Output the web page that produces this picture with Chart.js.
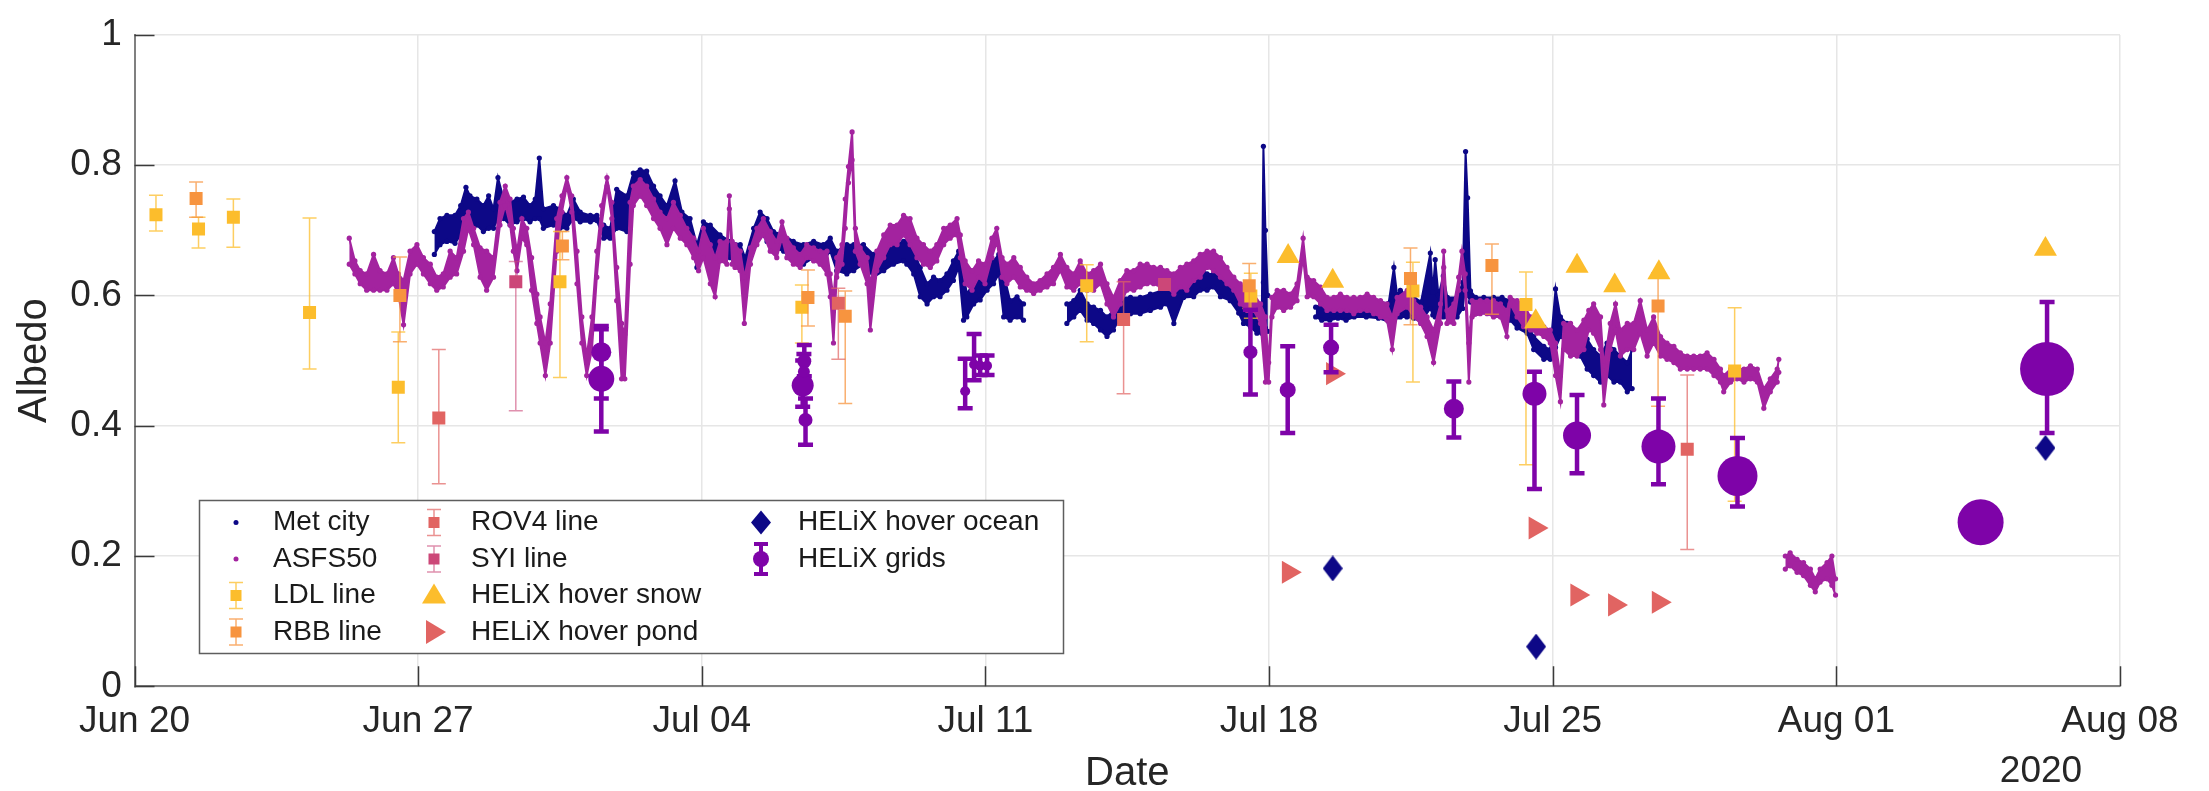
<!DOCTYPE html>
<html>
<head>
<meta charset="utf-8">
<title>Albedo</title>
<script src="https://cdn.jsdelivr.net/npm/chart.js@4.4.1/dist/chart.umd.min.js"></script>
<style>
  html, body { margin: 0; padding: 0; background: #ffffff; }
  #wrap { width: 2209px; height: 791px; position: relative; }
</style>
</head>
<body>
<div id="wrap"><canvas id="albedo"></canvas></div>
<script>
// ---------------------------------------------------------------
// Data. Time is in days since 20 Jun 2020 00:00 (UTC).
// ---------------------------------------------------------------
const tickLabels = ['Jun 20', 'Jun 27', 'Jul 04', 'Jul 11', 'Jul 18', 'Jul 25', 'Aug 01', 'Aug 08'];
const yearLabel = '2020';

// Continuous stations: [day, low, high] envelope of the albedo record.
// A row with nulls marks a gap in the record.
const metCity = [
  [7.40,0.663,0.698],[7.54,0.678,0.718],[7.71,0.683,0.723],[7.91,0.680,0.723],[8.05,0.693,0.738],
  [8.18,0.703,0.766],[8.28,0.703,0.753],[8.45,0.708,0.748],[8.61,0.698,0.738],[8.74,0.703,0.753],
  [8.86,0.703,0.733],[8.97,0.718,0.781],[9.11,0.718,0.748],[9.27,0.708,0.743],[9.44,0.713,0.748],
  [9.60,0.718,0.751],[9.76,0.713,0.738],[9.89,0.718,0.748],[9.99,0.718,0.811],[10.09,0.703,0.733],
  [10.34,0.708,0.738],[10.50,0.703,0.733],[10.67,0.703,0.723],[10.83,0.718,0.748],[11.00,0.713,0.728],
  [11.25,0.713,0.723],[11.41,0.715,0.723],[11.58,0.688,0.708],[11.74,0.688,0.703],[11.90,0.703,0.763],
  [12.15,0.698,0.753],[12.31,0.745,0.788],[12.48,0.753,0.793],[12.64,0.748,0.791],[12.81,0.733,0.768],
  [12.97,0.718,0.753],[13.14,0.708,0.738],[13.34,0.708,0.776],[13.51,0.703,0.728],[13.71,0.688,0.718],
  [13.88,0.643,0.678],[14.04,0.658,0.713],[14.21,0.668,0.708],[14.45,0.658,0.693],[14.70,0.658,0.683],
  [14.95,0.648,0.678],[15.07,0.633,0.658],[15.28,0.678,0.703],[15.44,0.698,0.728],[15.61,0.683,0.718],
  [15.77,0.673,0.698],[16.02,0.668,0.693],[16.26,0.653,0.683],[16.51,0.648,0.678],[16.76,0.658,0.683],
  [17.00,0.653,0.678],[17.17,0.668,0.688],[17.33,0.638,0.668],[17.58,0.633,0.678],[17.75,0.638,0.678],
  [17.99,0.648,0.678],[18.24,0.628,0.663],[18.49,0.638,0.668],[18.73,0.648,0.678],[18.98,0.653,0.683],
  [19.06,0.648,0.683],[19.23,0.633,0.668],[19.39,0.598,0.643],[19.56,0.587,0.618],[19.72,0.598,0.628],
  [19.88,0.598,0.623],[20.05,0.608,0.633],[20.21,0.623,0.653],[20.34,0.643,0.668],[20.46,0.562,0.633],
  [20.54,0.567,0.603],[20.71,0.587,0.618],[20.87,0.593,0.623],[21.04,0.608,0.638],[21.20,0.618,0.653],
  [21.33,0.633,0.663],[21.45,0.567,0.633],[21.61,0.562,0.592],[21.78,0.567,0.598],[21.94,0.562,0.587],
  [22.45,null,null],
  [23.01,0.557,0.587],[23.18,0.567,0.592],[23.34,0.577,0.608],[23.51,0.562,0.587],[23.67,0.557,0.582],
  [23.84,0.547,0.577],[24.00,0.537,0.567],[24.16,0.547,0.577],[24.33,0.567,0.597],[24.58,0.572,0.597],
  [24.82,0.572,0.597],[25.07,0.577,0.602],[25.32,0.582,0.607],[25.48,0.587,0.607],[25.65,0.557,0.602],
  [25.89,0.597,0.618],[26.14,0.598,0.638],[26.30,0.608,0.643],[26.47,0.608,0.633],[26.63,0.613,0.633],
  [26.80,0.598,0.628],[27.04,0.592,0.618],[27.25,0.573,0.602],[27.37,0.557,0.587],[27.54,0.552,0.587],
  [27.70,0.542,0.572],[27.82,0.542,0.567],[27.86,0.620,0.829],[27.91,0.550,0.700],[27.97,0.545,0.600],
  [28.55,null,null],
  [29.15,0.567,0.582],[29.30,0.562,0.587],[29.50,0.562,0.587],[29.70,0.565,0.590],[29.90,0.562,0.588],
  [30.10,0.567,0.592],[30.40,0.567,0.592],[30.70,0.565,0.590],[30.95,0.560,0.588],[31.08,0.570,0.643],
  [31.16,0.567,0.600],[31.24,0.567,0.608],[31.40,0.567,0.600],[31.57,0.565,0.598],[31.75,0.560,0.590],
  [31.98,0.580,0.665],[32.04,0.570,0.605],[32.10,0.567,0.655],[32.18,0.567,0.600],[32.30,0.567,0.630],
  [32.40,0.567,0.597],[32.64,0.567,0.597],[32.78,0.580,0.620],[32.85,0.620,0.821],[32.90,0.600,0.750],
  [32.97,0.590,0.607],[33.10,0.572,0.597],
  [33.30,0.575,0.597],[33.54,0.572,0.597],[33.75,0.567,0.597],[33.95,0.562,0.592],[34.12,0.550,0.580],
  [34.37,0.542,0.557],[34.53,0.517,0.537],[34.78,0.502,0.522],[34.94,0.502,0.517],[35.07,0.520,0.610],
  [35.19,0.537,0.567],[35.35,0.527,0.557],[35.52,0.517,0.547],[35.68,0.507,0.542],[35.85,0.487,0.533],
  [36.01,0.477,0.517],[36.18,0.467,0.507],[36.34,0.477,0.527],[36.51,0.467,0.517],[36.67,0.467,0.507],
  [36.84,0.452,0.497],[36.96,0.457,0.517]
];

const asfs50 = [
  [5.30,0.648,0.688],[5.44,0.633,0.653],[5.57,0.618,0.638],[5.73,0.608,0.633],[5.90,0.608,0.663],
  [6.06,0.608,0.638],[6.23,0.608,0.633],[6.39,0.618,0.658],[6.51,0.602,0.633],[6.64,0.555,0.623],
  [6.80,0.633,0.668],[6.97,0.648,0.678],[7.13,0.633,0.658],[7.30,0.618,0.648],[7.46,0.608,0.628],
  [7.62,0.613,0.633],[7.79,0.628,0.668],[7.95,0.633,0.658],[8.12,0.668,0.718],[8.24,0.703,0.728],
  [8.37,0.678,0.703],[8.53,0.628,0.673],[8.69,0.608,0.668],[8.86,0.628,0.658],[9.02,0.708,0.743],
  [9.15,0.738,0.768],[9.27,0.708,0.748],[9.35,0.668,0.703],[9.44,0.638,0.668],[9.56,0.688,0.718],
  [9.68,0.678,0.703],[9.80,0.608,0.658],[9.93,0.557,0.602],[10.01,0.527,0.567],[10.14,0.477,0.527],
  [10.26,0.527,0.587],[10.42,0.668,0.718],[10.55,0.728,0.753],[10.67,0.768,0.781],[10.79,0.728,0.753],
  [10.92,0.618,0.668],[11.04,0.527,0.567],[11.16,0.477,0.507],[11.29,0.517,0.567],[11.41,0.628,0.668],
  [11.53,0.708,0.738],[11.66,0.768,0.781],[11.78,0.718,0.743],[11.90,0.592,0.643],[12.02,0.472,0.557],
  [12.10,0.472,0.540],[12.23,0.648,0.743],[12.31,0.738,0.768],[12.48,0.753,0.778],[12.64,0.738,0.768],
  [12.81,0.718,0.748],[12.97,0.703,0.728],[13.14,0.678,0.718],[13.30,0.703,0.743],[13.47,0.688,0.723],
  [13.63,0.678,0.703],[13.80,0.658,0.688],[13.92,0.638,0.668],[14.04,0.658,0.703],[14.21,0.618,0.678],
  [14.33,0.598,0.658],[14.45,0.653,0.683],[14.62,0.648,0.683],[14.68,0.733,0.753],[14.75,0.648,0.683],
  [14.82,0.643,0.678],[14.95,0.638,0.668],[15.05,0.557,0.628],[15.20,0.648,0.673],[15.36,0.678,0.703],
  [15.52,0.693,0.718],[15.69,0.668,0.698],[15.85,0.658,0.683],[15.98,0.688,0.713],[16.10,0.658,0.688],
  [16.26,0.648,0.673],[16.43,0.643,0.663],[16.59,0.658,0.678],[16.76,0.653,0.673],[16.92,0.648,0.668],
  [17.09,0.633,0.668],[17.17,0.598,0.633],[17.25,0.527,0.597],[17.33,0.628,0.658],[17.46,0.648,0.678],
  [17.54,0.703,0.748],[17.62,0.773,0.798],[17.71,0.808,0.851],[17.79,0.668,0.703],[17.91,0.648,0.673],
  [18.08,0.618,0.658],[18.16,0.547,0.618],[18.32,0.638,0.668],[18.49,0.658,0.693],[18.65,0.678,0.708],
  [18.82,0.678,0.708],[18.98,0.693,0.723],[19.14,0.678,0.718],[19.31,0.658,0.688],[19.47,0.648,0.678],
  [19.64,0.643,0.668],[19.80,0.653,0.678],[19.97,0.678,0.703],[20.13,0.688,0.708],[20.30,0.693,0.718],
  [20.38,0.658,0.693],[20.50,0.618,0.653],[20.67,0.608,0.638],[20.83,0.628,0.653],[20.99,0.618,0.648],
  [21.16,0.658,0.688],[21.28,0.683,0.703],[21.41,0.628,0.658],[21.53,0.618,0.648],[21.70,0.628,0.658],
  [21.86,0.613,0.643],[22.02,0.608,0.628],[22.19,0.603,0.618],[22.35,0.608,0.623],[22.52,0.613,0.633],
  [22.68,0.618,0.643],[22.85,0.638,0.663],[23.01,0.613,0.643],[23.18,0.608,0.633],[23.34,0.618,0.653],
  [23.51,0.608,0.633],[23.67,0.608,0.638],[23.84,0.618,0.648],[24.00,0.587,0.618],[24.16,0.567,0.597],
  [24.33,0.587,0.623],[24.49,0.608,0.638],[24.66,0.608,0.638],[24.82,0.613,0.648],[24.99,0.618,0.648],
  [25.15,0.618,0.643],[25.32,0.613,0.643],[25.48,0.613,0.638],[25.65,0.602,0.633],[25.81,0.613,0.643],
  [25.97,0.608,0.648],[26.14,0.623,0.653],[26.30,0.628,0.663],[26.47,0.643,0.668],[26.63,0.638,0.668],
  [26.80,0.628,0.658],[26.96,0.618,0.643],[27.13,0.608,0.628],[27.29,0.587,0.618],[27.46,0.577,0.608],
  [27.62,0.577,0.602],[27.79,0.557,0.587],[27.91,0.467,0.567],[27.99,0.467,0.497],[28.07,0.567,0.597],
  [28.20,0.582,0.608],[28.36,0.577,0.608],[28.53,0.582,0.602],[28.69,0.592,0.618],[28.84,0.658,0.688],
  [28.94,0.598,0.628],[29.10,0.598,0.623],[29.27,0.587,0.613],[29.43,0.577,0.597],[29.60,0.577,0.597],
  [29.76,0.577,0.602],[29.92,0.577,0.597],[30.09,0.572,0.597],[30.25,0.577,0.597],[30.42,0.577,0.602],
  [30.58,0.572,0.597],[30.75,0.567,0.592],[30.91,0.562,0.587],[31.04,0.517,0.567],[31.16,0.572,0.597],
  [31.41,0.582,0.608],[31.57,0.567,0.592],[31.74,0.557,0.582],[31.90,0.537,0.567],[32.06,0.497,0.547],
  [32.23,0.557,0.587],[32.31,0.643,0.668],[32.39,0.557,0.577],[32.56,0.557,0.587],[32.68,0.608,0.628],
  [32.76,0.643,0.668],[32.84,0.608,0.633],[32.93,0.467,0.527],[33.01,0.567,0.592],[33.21,0.572,0.592],
  [33.38,0.572,0.592],[33.54,0.567,0.592],[33.71,0.567,0.587],[33.87,0.537,0.577],[33.95,0.587,0.597],
  [34.12,0.567,0.592],[34.28,0.552,0.587],[34.45,0.547,0.567],[34.61,0.542,0.557],[34.78,0.537,0.552],
  [34.94,0.527,0.547],[35.07,0.477,0.527],[35.19,0.437,0.477],[35.27,0.517,0.557],[35.44,0.507,0.557],
  [35.60,0.507,0.547],[35.77,0.517,0.562],[35.89,0.547,0.577],[36.01,0.542,0.587],[36.18,0.517,0.567],
  [36.26,0.432,0.492],[36.42,0.517,0.557],[36.55,0.547,0.587],[36.67,0.507,0.547],[36.84,0.517,0.557],
  [37.00,0.517,0.557],[37.16,0.542,0.592],[37.33,0.507,0.547],[37.49,0.527,0.567],[37.66,0.507,0.537],
  [37.82,0.502,0.527],[37.99,0.497,0.522],[38.15,0.487,0.512],[38.32,0.487,0.507],[38.48,0.487,0.507],
  [38.64,0.487,0.507],[38.81,0.487,0.512],[38.98,0.477,0.502],[39.14,0.467,0.487],[39.22,0.452,0.477],
  [39.39,0.467,0.487],[39.55,0.472,0.487],[39.72,0.467,0.487],[39.88,0.472,0.492],[40.05,0.467,0.487],
  [40.21,0.427,0.457],[40.37,0.452,0.472],[40.54,0.467,0.487],[40.58,0.482,0.502],
  [40.66,null,null],
  [40.74,0.180,0.200],[40.86,0.185,0.205],[41.03,0.175,0.195],[41.19,0.170,0.190],[41.36,0.155,0.180],
  [41.48,0.145,0.165],[41.60,0.160,0.180],[41.77,0.165,0.190],[41.89,0.155,0.200],[41.98,0.140,0.165]
];

// Transect lines: [day, mean albedo, error low, error high]
const ldlLine = [
  [0.53,0.724,0.699,0.754],[1.58,0.702,0.673,0.720],[2.44,0.720,0.674,0.748],[4.32,0.574,0.487,0.719],
  [6.51,0.459,0.374,0.544],[10.50,0.621,0.474,0.698],[16.47,0.582,0.527,0.616],[23.50,0.615,0.529,0.647],
  [27.55,0.599,0.565,0.634],[31.55,0.607,0.467,0.651],[34.34,0.586,0.340,0.636],[39.49,0.484,0.284,0.581]
];
const rbbLine = [
  [1.52,0.749,0.720,0.774],[6.55,0.600,0.529,0.659],[10.56,0.676,0.655,0.698],[16.62,0.597,0.553,0.639],
  [17.54,0.568,0.434,0.607],[27.51,0.615,0.580,0.649],[31.49,0.626,0.555,0.673],[33.50,0.646,0.571,0.679],
  [37.60,0.584,0.430,0.635]
];
const rov4Line = [
  [7.51,0.412,0.311,0.517],[17.37,0.588,0.502,0.611],[24.41,0.563,0.449,0.621],[38.32,0.364,0.210,0.478]
];
const syiLine = [
  [9.41,0.621,0.423,0.652],[25.42,0.617,null,null]
];

// HELiX helicopter hovers: [day, albedo]
const hoverSnow  = [[28.47,0.660],[29.57,0.622],[34.58,0.560],[35.60,0.645],[36.53,0.615],[37.62,0.635],[47.16,0.671]];
const hoverPond  = [[28.48,0.175],[29.57,0.480],[34.57,0.243],[35.60,0.140],[36.53,0.125],[37.61,0.129]];
const hoverOcean = [[29.57,0.181],[34.59,0.061],[47.16,0.366]];

// HELiX survey grids: [day, mean albedo, error low, error high]
const helixGrids = [
  [11.52,0.513,0.442,0.548],[11.52,0.472,0.391,0.553],
  [16.49,0.462,0.429,0.500],[16.53,0.499,0.476,0.524],[16.56,0.409,0.371,0.442],[16.52,0.483,0.455,0.510],
  [20.50,0.453,0.427,0.503],[20.72,0.494,0.470,0.541],[20.87,0.492,0.478,0.508],[21.04,0.492,0.478,0.508],
  [27.54,0.513,0.448,0.578],[28.46,0.455,0.389,0.522],[29.53,0.520,0.482,0.555],[32.56,0.426,0.382,0.468],
  [34.55,0.449,0.303,0.483],[35.60,0.385,0.327,0.447],[37.61,0.368,0.310,0.442],[39.56,0.323,0.276,0.381],
  [45.56,0.252,null,null],[47.20,0.487,0.389,0.590]
];

// ---------------------------------------------------------------
// Styling
// ---------------------------------------------------------------
const FONT = "'Liberation Sans', Arial, Helvetica, sans-serif";
const TEXT = '#262626';
const COL = {
  met: '#0d0887', asfs: '#a3239f', ldl: '#fcbd2c', rbb: '#f7943f', rov4: '#e16462',
  syi: '#cc4778', snow: '#fcbd2c', pond: '#e16462', ocean: '#0d0887', grid: '#7e03a8'
};
const ERR = {
  ldl: 'rgba(252,189,44,0.75)', rbb: 'rgba(247,148,63,0.75)',
  rov4: 'rgba(225,100,98,0.7)', syi: 'rgba(204,71,120,0.6)'
};
// marker radius (px) for each survey grid, in the order of helixGrids
const gridMarkerRadius = [10,13,11,7,7,6,5,5,5,5,7,8,8,10,12,14,17,20,23,27];

Chart.defaults.font.family = FONT;
Chart.defaults.color = TEXT;

function diamondImage(w, h, color) {
  const c = document.createElement('canvas');
  c.width = w; c.height = h;
  const g = c.getContext('2d');
  g.fillStyle = color;
  g.beginPath();
  g.moveTo(w / 2, 0); g.lineTo(w, h / 2); g.lineTo(w / 2, h); g.lineTo(0, h / 2);
  g.closePath(); g.fill();
  return c;
}
const oceanDiamond = diamondImage(20, 26, COL.ocean);

const envelope = (rows, k) => rows.map(r => ({ x: r[0], y: r[k] }));
const withErr = rows => rows.map(r => ({ x: r[0], y: r[1], lo: r[2], hi: r[3] }));
const pts = rows => rows.map(r => ({ x: r[0], y: r[1] }));

function bandPair(label, rows, color, orderTop) {
  const common = {
    showLine: true, spanGaps: false, borderColor: color, backgroundColor: color,
    borderWidth: 2, pointRadius: 2.6, pointBorderWidth: 0, pointBackgroundColor: color
  };
  return [
    Object.assign({ label: label, data: envelope(rows, 2), fill: '+1', order: orderTop }, common),
    Object.assign({ label: label + ' (low)', data: envelope(rows, 1), fill: false, order: orderTop - 1 }, common)
  ];
}

function squareSet(label, rows, color, errColor, order) {
  return {
    label: label, data: withErr(rows), pointStyle: 'rect', pointRadius: 9.2,
    backgroundColor: color, borderColor: color, borderWidth: 0, order: order,
    errorBar: { color: errColor, width: 1.5, cap: 7 }
  };
}

// ---------------------------------------------------------------
// Plugins: error bars, inward tick marks, boxed legend, year label
// ---------------------------------------------------------------
const errorBars = {
  id: 'errorBars',
  beforeDatasetDraw(chart, args) {
    const ds = chart.data.datasets[args.index];
    if (!ds.errorBar) return;
    const { ctx } = chart;
    const xs = chart.scales.x, ys = chart.scales.y;
    const eb = ds.errorBar;
    ctx.save();
    ctx.strokeStyle = eb.color;
    ctx.lineWidth = eb.width;
    ds.data.forEach(p => {
      if (p.lo == null || p.hi == null) return;
      const px = xs.getPixelForValue(p.x);
      const yl = ys.getPixelForValue(p.lo);
      const yh = ys.getPixelForValue(p.hi);
      ctx.beginPath();
      ctx.moveTo(px, yl); ctx.lineTo(px, yh);
      ctx.moveTo(px - eb.cap, yl); ctx.lineTo(px + eb.cap, yl);
      ctx.moveTo(px - eb.cap, yh); ctx.lineTo(px + eb.cap, yh);
      ctx.stroke();
    });
    ctx.restore();
  }
};

const innerTicks = {
  id: 'innerTicks',
  beforeDatasetsDraw(chart) {
    const { ctx, chartArea: a } = chart;
    const xs = chart.scales.x, ys = chart.scales.y;
    ctx.save();
    ctx.strokeStyle = '#3a3a3a';
    ctx.lineWidth = 1.5;
    ctx.beginPath();
    xs.ticks.forEach(t => {
      const px = Math.round(xs.getPixelForValue(t.value)) + 0.5;
      ctx.moveTo(px, a.bottom); ctx.lineTo(px, a.bottom - 20);
    });
    ys.ticks.forEach(t => {
      const py = Math.round(ys.getPixelForValue(t.value)) + 0.5;
      ctx.moveTo(a.left, py); ctx.lineTo(a.left + 20, py);
    });
    ctx.stroke();
    ctx.restore();
  }
};

const legendItems = [
  { text: 'Met city', kind: 'dot', color: COL.met },
  { text: 'ASFS50', kind: 'dot', color: COL.asfs },
  { text: 'LDL line', kind: 'sq', color: COL.ldl, err: ERR.ldl },
  { text: 'RBB line', kind: 'sq', color: COL.rbb, err: ERR.rbb },
  { text: 'ROV4 line', kind: 'sq', color: COL.rov4, err: ERR.rov4 },
  { text: 'SYI line', kind: 'sq', color: COL.syi, err: ERR.syi },
  { text: 'HELiX hover snow', kind: 'tri', color: COL.snow },
  { text: 'HELiX hover pond', kind: 'triR', color: COL.pond },
  { text: 'HELiX hover ocean', kind: 'dia', color: COL.ocean },
  { text: 'HELiX grids', kind: 'grid', color: COL.grid }
];

const boxLegend = {
  id: 'boxLegend',
  afterDraw(chart) {
    const ctx = chart.ctx;
    const box = { x: 199, y: 500, w: 864, h: 153 };
    const markX = [236, 434, 761], textX = [273, 471, 798];
    const rowY = [522.5, 559, 595.5, 632];
    ctx.save();
    ctx.fillStyle = '#ffffff';
    ctx.fillRect(box.x, box.y, box.w, box.h);
    ctx.strokeStyle = '#5e5e5e';
    ctx.lineWidth = 1.5;
    ctx.strokeRect(box.x + 0.5, box.y + 0.5, box.w, box.h);
    legendItems.forEach((it, i) => {
      const col = Math.floor(i / 4), row = i % 4;
      const mx = markX[col], my = rowY[row];
      ctx.fillStyle = it.color;
      ctx.strokeStyle = it.err || it.color;
      if (it.kind === 'dot') {
        ctx.beginPath(); ctx.arc(mx, my, 2.5, 0, Math.PI * 2); ctx.fill();
      } else if (it.kind === 'sq') {
        ctx.lineWidth = 1.5;
        ctx.beginPath();
        ctx.moveTo(mx, my - 13); ctx.lineTo(mx, my + 13);
        ctx.moveTo(mx - 7, my - 13); ctx.lineTo(mx + 7, my - 13);
        ctx.moveTo(mx - 7, my + 13); ctx.lineTo(mx + 7, my + 13);
        ctx.stroke();
        ctx.fillRect(mx - 5.5, my - 5.5, 11, 11);
      } else if (it.kind === 'tri') {
        ctx.beginPath();
        ctx.moveTo(mx, my - 12); ctx.lineTo(mx + 12, my + 8); ctx.lineTo(mx - 12, my + 8);
        ctx.closePath(); ctx.fill();
      } else if (it.kind === 'triR') {
        ctx.beginPath();
        ctx.moveTo(mx + 12, my); ctx.lineTo(mx - 8, my - 12); ctx.lineTo(mx - 8, my + 12);
        ctx.closePath(); ctx.fill();
      } else if (it.kind === 'dia') {
        ctx.beginPath();
        ctx.moveTo(mx, my - 12); ctx.lineTo(mx + 10, my); ctx.lineTo(mx, my + 12); ctx.lineTo(mx - 10, my);
        ctx.closePath(); ctx.fill();
      } else if (it.kind === 'grid') {
        ctx.lineWidth = 4;
        ctx.beginPath();
        ctx.moveTo(mx, my - 15); ctx.lineTo(mx, my + 15);
        ctx.moveTo(mx - 7, my - 15); ctx.lineTo(mx + 7, my - 15);
        ctx.moveTo(mx - 7, my + 15); ctx.lineTo(mx + 7, my + 15);
        ctx.stroke();
        ctx.beginPath(); ctx.arc(mx, my, 8, 0, Math.PI * 2); ctx.fill();
      }
      ctx.fillStyle = '#1a1a1a';
      ctx.font = '28px ' + FONT;
      ctx.textAlign = 'left';
      ctx.textBaseline = 'middle';
      ctx.fillText(it.text, textX[col], my);
    });
    // year under the last date tick
    ctx.fillStyle = TEXT;
    ctx.font = '37px ' + FONT;
    ctx.textAlign = 'center';
    ctx.textBaseline = 'middle';
    ctx.fillText(yearLabel, 2041, 772);
    ctx.restore();
  }
};

// ---------------------------------------------------------------
// Chart
// ---------------------------------------------------------------
const datasets = [
  ...bandPair('Met city', metCity, COL.met, 30),
  ...bandPair('ASFS50', asfs50, COL.asfs, 28),
  squareSet('LDL line', ldlLine, COL.ldl, ERR.ldl, 20),
  squareSet('RBB line', rbbLine, COL.rbb, ERR.rbb, 19),
  squareSet('ROV4 line', rov4Line, COL.rov4, ERR.rov4, 18),
  squareSet('SYI line', syiLine, COL.syi, ERR.syi, 17),
  { label: 'HELiX hover snow', data: pts(hoverSnow), pointStyle: 'triangle', pointRadius: 13.3,
    backgroundColor: COL.snow, borderWidth: 0, order: 16 },
  { label: 'HELiX hover pond', data: pts(hoverPond), pointStyle: 'triangle', rotation: 90, pointRadius: 13.3,
    backgroundColor: COL.pond, borderWidth: 0, order: 15 },
  { label: 'HELiX hover ocean', data: pts(hoverOcean), pointStyle: oceanDiamond,
    backgroundColor: COL.ocean, borderWidth: 0, order: 14 },
  { label: 'HELiX grids', data: withErr(helixGrids), pointStyle: 'circle',
    pointRadius: ctx => gridMarkerRadius[ctx.dataIndex],
    backgroundColor: COL.grid, borderWidth: 0, order: 13,
    errorBar: { color: COL.grid, width: 4.5, cap: 7.5 } }
];

new Chart(document.getElementById('albedo'), {
  type: 'scatter',
  data: { datasets: datasets },
  options: {
    responsive: true,
    maintainAspectRatio: false,
    devicePixelRatio: 1,
    animation: false,
    events: [],
    layout: { padding: { left: 0, right: 89, top: 22.7, bottom: 0 } },
    plugins: { legend: { display: false }, tooltip: { enabled: false } },
    scales: {
      x: {
        type: 'linear', min: 0, max: 49,
        afterFit: s => { s.height = 104.7; },
        grid: { color: '#e6e6e6', lineWidth: 1.5, drawTicks: false },
        border: { display: true, color: '#808080', width: 2 },
        ticks: {
          stepSize: 7, autoSkip: false, maxRotation: 0, padding: 13.5,
          font: { size: 37 }, color: TEXT,
          callback: v => tickLabels[Math.round(v / 7)]
        },
        title: { display: true, text: 'Date', color: TEXT,
                 font: { size: 40, lineHeight: 0.8 }, padding: { top: 0, bottom: 1 } }
      },
      y: {
        type: 'linear', min: 0, max: 1,
        afterFit: s => { s.width = 134.5; },
        grid: { color: '#e6e6e6', lineWidth: 1.5, drawTicks: false },
        border: { display: true, color: '#808080', width: 2 },
        ticks: {
          stepSize: 0.2, padding: 12.7, font: { size: 37 }, color: TEXT,
          callback: v => String(Math.round(v * 10) / 10)
        },
        title: { display: true, text: 'Albedo', color: TEXT,
                 font: { size: 40, lineHeight: 1.2 }, padding: { top: 11, bottom: 0 } }
      }
    }
  },
  plugins: [errorBars, innerTicks, boxLegend]
});
</script>
</body>
</html>
